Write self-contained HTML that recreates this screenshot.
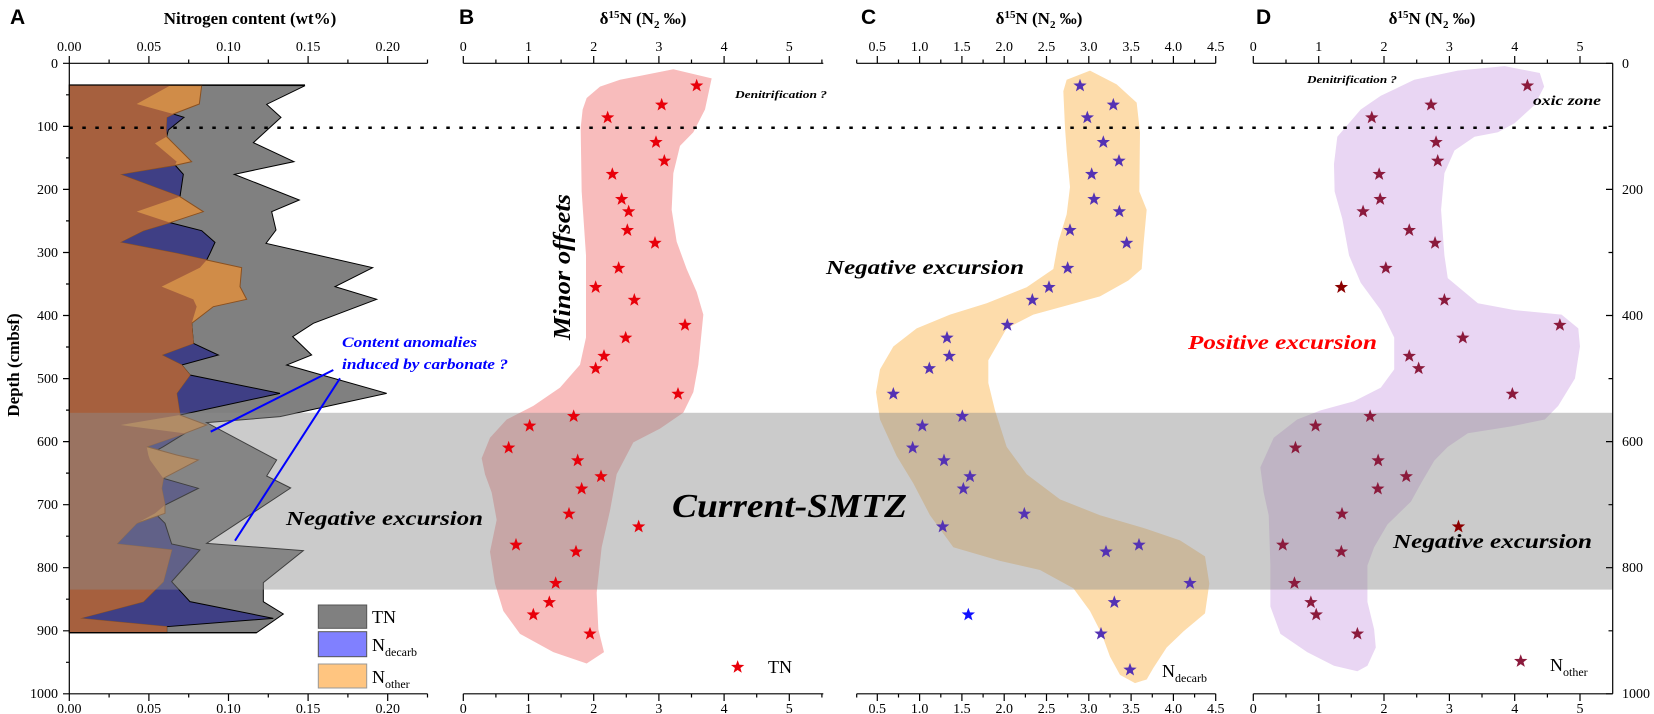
<!DOCTYPE html>
<html><head><meta charset="utf-8"><style>
html,body{margin:0;padding:0;background:#fff;}
svg{display:block;font-family:"Liberation Serif",serif;}
</style></head><body>
<svg width="1654" height="714" viewBox="0 0 1654 714" xmlns="http://www.w3.org/2000/svg">
<defs>
<path id="st" d="M0,-15.35 L5.1,-5.15 L19.98,-4.74 L8.28,1.97 L12.33,12.41 L0,6.36 L-12.33,12.41 L-8.28,1.97 L-19.98,-4.74 L-5.1,-5.15Z"/>
<clipPath id="cp"><rect x="69.3" y="63.3" width="1543.4" height="630.5"/></clipPath>
</defs>

<!-- Panel A areas -->
<g transform="translate(0,40) scale(0.33333)">
<polygon fill="#808080" stroke="#000" stroke-width="3" points="208,135 915,137 800,193 843,232 760,308 882,365 703,403 898,480 815,515 828,570 798,610 1118,683 1005,740 1130,778 940,850 878,890 935,945 860,975 1160,1060 840,1130 620,1148 830,1260 800,1308 872,1344 620,1510 910,1532 790,1628 790,1685 850,1722 770,1778 208,1778"/>
<polygon fill="#3f3f85" stroke="#000" stroke-width="3" points="208,135 510,137 410,192 520,222 552,232 505,270 500,290 465,310 530,365 525,375 550,403 540,470 410,515 510,548 605,572 645,607 630,640 620,660 600,683 485,740 580,778 590,800 575,850 580,910 655,945 545,975 570,1005 840,1060 540,1125 362,1155 555,1180 490,1220 445,1245 450,1260 490,1315 595,1345 495,1395 465,1420 495,1450 515,1512 600,1530 515,1625 570,1685 820,1735 500,1760 500,1778 208,1778"/>
<polygon fill="#d08c48" stroke="#8a5020" stroke-width="3" points="208,135 605,137 598,192 520,222 500,232 498,270 500,290 520,310 575,365 530,375 360,403 540,470 610,515 510,548 430,572 360,607 530,640 620,660 725,683 720,740 740,778 640,800 575,850 580,910 485,945 545,975 570,1005 530,1060 540,1125 620,1155 555,1180 440,1220 530,1245 595,1260 490,1315 485,1345 495,1395 495,1420 410,1450 350,1512 515,1530 490,1625 430,1685 240,1735 500,1760 500,1778 208,1778"/>
<polygon fill="#a6603e" points="208,135 510,137 410,192 520,222 500,232 498,270 500,290 465,310 530,365 525,375 360,403 540,470 410,515 510,548 430,572 360,607 530,640 620,660 600,683 485,740 580,778 590,800 575,850 580,910 485,945 545,975 570,1005 530,1060 540,1125 362,1155 555,1180 440,1220 445,1245 450,1260 490,1315 485,1345 495,1395 465,1420 410,1450 350,1512 515,1530 490,1625 430,1685 240,1735 500,1760 500,1778 208,1778"/>
<line x1="208" y1="135" x2="915" y2="135" stroke="#000" stroke-width="4"/>
<line x1="208" y1="1778" x2="770" y2="1778" stroke="#000" stroke-width="4"/>
</g>

<!-- Blobs -->
<g transform="translate(400,0) scale(0.33333,0.456)">
<polygon fill="#f8bcbc" points="560,215 600,190 660,175 820,152 935,172 915,240 880,290 840,320 820,380 815,460 830,530 860,590 890,640 910,690 895,800 880,860 850,905 780,940 700,970 650,1040 630,1120 605,1200 590,1300 595,1380 612,1430 560,1455 460,1430 360,1390 310,1340 285,1280 270,1210 290,1140 275,1080 255,1040 245,1005 270,960 320,920 400,890 480,850 540,800 558,740 558,560 545,420 542,280 548,240"/>
</g>
<g transform="translate(800,0) scale(0.33333,0.456)">
<polygon fill="#fddcab" points="800,175 870,155 950,185 1010,225 1020,290 1018,420 1040,460 1030,540 1025,590 985,615 900,650 800,670 700,690 620,720 565,790 565,840 585,900 620,980 680,1040 780,1095 900,1130 1040,1160 1140,1185 1215,1220 1228,1280 1215,1345 1150,1385 1100,1420 1060,1465 1040,1490 1005,1498 960,1480 930,1440 905,1390 870,1340 820,1290 720,1250 600,1230 460,1200 390,1130 340,1060 290,1000 240,920 228,860 240,810 280,760 350,720 450,690 560,665 680,630 760,590 775,530 800,470 810,410 800,330 795,280 790,200"/>
</g>
<g transform="translate(1180,0) scale(0.3347,0.456)">
<polygon fill="#e9d6f3" points="540,240 600,210 700,175 830,155 970,145 1075,160 1088,190 1060,230 1000,270 950,290 880,300 820,330 790,380 780,460 790,560 800,610 890,665 1000,680 1140,690 1190,720 1195,760 1180,830 1130,890 1090,920 990,935 860,950 800,980 760,1010 720,1060 690,1100 620,1150 580,1200 560,1240 560,1320 580,1380 585,1420 560,1460 530,1472 460,1460 380,1430 300,1390 270,1330 270,1240 265,1130 250,1080 240,1025 280,960 350,920 420,900 520,880 600,850 640,810 640,740 600,680 540,620 505,560 485,480 462,420 460,360 470,300"/>
</g>

<!-- Gray band -->
<rect x="69.3" y="412.8" width="1543.4" height="176.8" fill="#8c8c8c" opacity="0.45"/>

<!-- Dotted line -->
<line x1="69.3" y1="127.8" x2="1612.7" y2="127.8" stroke="#000" stroke-width="2.5" stroke-dasharray="3.5,9.5"/>

<!-- Stars B -->
<g transform="translate(400,0) scale(0.33333,0.456)" fill="#e8000a">
<use href="#st" x="890" y="188"/><use href="#st" x="785" y="230"/><use href="#st" x="623" y="258"/><use href="#st" x="768" y="312"/><use href="#st" x="793" y="353"/><use href="#st" x="637" y="382"/><use href="#st" x="665" y="437"/><use href="#st" x="686" y="464"/><use href="#st" x="682" y="505"/><use href="#st" x="765" y="533"/><use href="#st" x="656" y="588"/><use href="#st" x="587" y="630"/><use href="#st" x="703" y="658"/><use href="#st" x="855" y="713"/><use href="#st" x="677" y="741"/><use href="#st" x="612" y="781"/><use href="#st" x="587" y="808"/><use href="#st" x="834" y="864"/><use href="#st" x="521" y="913"/><use href="#st" x="389" y="934"/><use href="#st" x="326" y="982"/><use href="#st" x="533" y="1010"/><use href="#st" x="603" y="1045"/><use href="#st" x="545" y="1072"/><use href="#st" x="507" y="1127"/><use href="#st" x="716" y="1155"/><use href="#st" x="348" y="1195"/><use href="#st" x="528" y="1210"/><use href="#st" x="467" y="1279"/><use href="#st" x="448" y="1321"/><use href="#st" x="400" y="1348"/><use href="#st" x="570" y="1390"/><use href="#st" x="1013" y="1463"/>
</g>
<!-- Stars C -->
<g transform="translate(800,0) scale(0.33333,0.456)" fill="#5432b4">
<use href="#st" x="840" y="188"/><use href="#st" x="940" y="230"/><use href="#st" x="862" y="258"/><use href="#st" x="910" y="312"/><use href="#st" x="957" y="353"/><use href="#st" x="875" y="382"/><use href="#st" x="882" y="437"/><use href="#st" x="958" y="464"/><use href="#st" x="810" y="505"/><use href="#st" x="980" y="533"/><use href="#st" x="803" y="588"/><use href="#st" x="747" y="630"/><use href="#st" x="697" y="658"/><use href="#st" x="622" y="713"/><use href="#st" x="441" y="741"/><use href="#st" x="448" y="781"/><use href="#st" x="388" y="808"/><use href="#st" x="280" y="864"/><use href="#st" x="487" y="913"/><use href="#st" x="367" y="934"/><use href="#st" x="338" y="982"/><use href="#st" x="432" y="1010"/><use href="#st" x="510" y="1045"/><use href="#st" x="490" y="1072"/><use href="#st" x="673" y="1127"/><use href="#st" x="428" y="1155"/><use href="#st" x="918" y="1210"/><use href="#st" x="1017" y="1195"/><use href="#st" x="1170" y="1279"/><use href="#st" x="943" y="1321"/><use href="#st" x="903" y="1390"/><use href="#st" x="990" y="1469"/>
<use href="#st" x="505" y="1348" fill="#1010ff"/>
</g>
<!-- Stars D -->
<g transform="translate(1180,0) scale(0.3347,0.456)" fill="#8b1a3c">
<use href="#st" x="1038" y="188"/><use href="#st" x="750" y="230"/><use href="#st" x="573" y="258"/><use href="#st" x="765" y="312"/><use href="#st" x="770" y="353"/><use href="#st" x="595" y="382"/><use href="#st" x="598" y="437"/><use href="#st" x="547" y="464"/><use href="#st" x="685" y="505"/><use href="#st" x="762" y="533"/><use href="#st" x="615" y="588"/><use href="#st" x="482" y="630" fill="#8b0000"/><use href="#st" x="790" y="658"/><use href="#st" x="1135" y="713"/><use href="#st" x="845" y="741"/><use href="#st" x="685" y="781"/><use href="#st" x="713" y="808"/><use href="#st" x="993" y="864"/><use href="#st" x="568" y="913"/><use href="#st" x="405" y="934"/><use href="#st" x="345" y="982"/><use href="#st" x="592" y="1010"/><use href="#st" x="676" y="1045"/><use href="#st" x="591" y="1072"/><use href="#st" x="484" y="1127"/><use href="#st" x="832" y="1155" fill="#8b0000"/><use href="#st" x="307" y="1195"/><use href="#st" x="482" y="1210"/><use href="#st" x="342" y="1279"/><use href="#st" x="391" y="1321"/><use href="#st" x="407" y="1348"/><use href="#st" x="530" y="1390"/><use href="#st" x="1018" y="1450"/>
</g>

<!-- Blue lines -->
<line x1="333.3" y1="370" x2="210.7" y2="431.7" stroke="#0000ff" stroke-width="2"/>
<line x1="340" y1="378.3" x2="235" y2="540.7" stroke="#0000ff" stroke-width="2"/>

<!-- Axes lines -->
<g stroke="#000" stroke-width="1.2" fill="none">
<line x1="69.3" y1="63.3" x2="427.5" y2="63.3"/>
<line x1="69.3" y1="693.8" x2="427.5" y2="693.8"/>
<line x1="69.3" y1="63.3" x2="69.3" y2="693.8"/>
<line x1="463.3" y1="63.3" x2="823.3" y2="63.3"/>
<line x1="463.3" y1="693.8" x2="823.3" y2="693.8"/>
<line x1="856.7" y1="63.3" x2="1215.7" y2="63.3"/>
<line x1="856.7" y1="693.8" x2="1215.7" y2="693.8"/>
<line x1="1253.3" y1="63.3" x2="1612.7" y2="63.3"/>
<line x1="1253.3" y1="693.8" x2="1612.7" y2="693.8"/>
<line x1="1612.7" y1="63.3" x2="1612.7" y2="693.8"/>
<!-- A ticks -->
<path d="M69.3 63.3V56M148.9 63.3V56M228.5 63.3V56M308.1 63.3V56M387.7 63.3V56M109.1 63.3V59.5M188.7 63.3V59.5M268.3 63.3V59.5M347.9 63.3V59.5M427.5 63.3V59.5
M69.3 693.8V701M148.9 693.8V701M228.5 693.8V701M308.1 693.8V701M387.7 693.8V701M109.1 693.8V697.5M188.7 693.8V697.5M268.3 693.8V697.5M347.9 693.8V697.5M427.5 693.8V697.5"/>
<path d="M63 63.3H69.3M63 126.4H69.3M63 189.4H69.3M63 252.5H69.3M63 315.5H69.3M63 378.6H69.3M63 441.6H69.3M63 504.7H69.3M63 567.7H69.3M63 630.8H69.3M63 693.8H69.3
M66 94.8H69.3M66 157.9H69.3M66 220.9H69.3M66 284H69.3M66 347H69.3M66 410.1H69.3M66 473.1H69.3M66 536.2H69.3M66 599.2H69.3M66 662.3H69.3"/>
<!-- B ticks -->
<path d="M463.3 63.3V56M528.5 63.3V56M593.7 63.3V56M658.9 63.3V56M724.1 63.3V56M789.3 63.3V56M495.9 63.3V59.5M561.1 63.3V59.5M626.3 63.3V59.5M691.5 63.3V59.5M756.7 63.3V59.5M821.9 63.3V59.5
M463.3 693.8V701M528.5 693.8V701M593.7 693.8V701M658.9 693.8V701M724.1 693.8V701M789.3 693.8V701M495.9 693.8V697.5M561.1 693.8V697.5M626.3 693.8V697.5M691.5 693.8V697.5M756.7 693.8V697.5M821.9 693.8V697.5"/>
<!-- C ticks -->
<path d="M877.3 63.3V56M919.6 63.3V56M961.9 63.3V56M1004.2 63.3V56M1046.5 63.3V56M1088.8 63.3V56M1131.1 63.3V56M1173.4 63.3V56M1215.7 63.3V56M856.7 63.3V59.5M898.5 63.3V59.5M940.8 63.3V59.5M983.1 63.3V59.5M1025.4 63.3V59.5M1067.7 63.3V59.5M1110 63.3V59.5M1152.3 63.3V59.5M1194.6 63.3V59.5
M877.3 693.8V701M919.6 693.8V701M961.9 693.8V701M1004.2 693.8V701M1046.5 693.8V701M1088.8 693.8V701M1131.1 693.8V701M1173.4 693.8V701M1215.7 693.8V701M856.7 693.8V697.5M898.5 693.8V697.5M940.8 693.8V697.5M983.1 693.8V697.5M1025.4 693.8V697.5M1067.7 693.8V697.5M1110 693.8V697.5M1152.3 693.8V697.5M1194.6 693.8V697.5"/>
<!-- D ticks -->
<path d="M1253.3 63.3V56M1318.7 63.3V56M1384 63.3V56M1449.4 63.3V56M1514.7 63.3V56M1580 63.3V56M1286 63.3V59.5M1351.3 63.3V59.5M1416.7 63.3V59.5M1482 63.3V59.5M1547.4 63.3V59.5
M1253.3 693.8V701M1318.7 693.8V701M1384 693.8V701M1449.4 693.8V701M1514.7 693.8V701M1580 693.8V701M1286 693.8V697.5M1351.3 693.8V697.5M1416.7 693.8V697.5M1482 693.8V697.5M1547.4 693.8V697.5"/>
<path d="M1606 63.3H1612.7M1606 189.4H1612.7M1606 315.5H1612.7M1606 441.6H1612.7M1606 567.7H1612.7M1606 693.8H1612.7M1608.5 126.4H1612.7M1608.5 252.5H1612.7M1608.5 378.6H1612.7M1608.5 504.7H1612.7M1608.5 630.8H1612.7"/>
</g>

<!-- Tick labels -->
<g font-size="14" text-anchor="middle" fill="#000">
<text x="69.3" y="51">0.00</text><text x="148.9" y="51">0.05</text><text x="228.5" y="51">0.10</text><text x="308.1" y="51">0.15</text><text x="387.7" y="51">0.20</text>
<text x="69.3" y="713">0.00</text><text x="148.9" y="713">0.05</text><text x="228.5" y="713">0.10</text><text x="308.1" y="713">0.15</text><text x="387.7" y="713">0.20</text>
<text x="463.3" y="51">0</text><text x="528.5" y="51">1</text><text x="593.7" y="51">2</text><text x="658.9" y="51">3</text><text x="724.1" y="51">4</text><text x="789.3" y="51">5</text>
<text x="463.3" y="713">0</text><text x="528.5" y="713">1</text><text x="593.7" y="713">2</text><text x="658.9" y="713">3</text><text x="724.1" y="713">4</text><text x="789.3" y="713">5</text>
<text x="877.3" y="51">0.5</text><text x="919.6" y="51">1.0</text><text x="961.9" y="51">1.5</text><text x="1004.2" y="51">2.0</text><text x="1046.5" y="51">2.5</text><text x="1088.8" y="51">3.0</text><text x="1131.1" y="51">3.5</text><text x="1173.4" y="51">4.0</text><text x="1215.7" y="51">4.5</text>
<text x="877.3" y="713">0.5</text><text x="919.6" y="713">1.0</text><text x="961.9" y="713">1.5</text><text x="1004.2" y="713">2.0</text><text x="1046.5" y="713">2.5</text><text x="1088.8" y="713">3.0</text><text x="1131.1" y="713">3.5</text><text x="1173.4" y="713">4.0</text><text x="1215.7" y="713">4.5</text>
<text x="1253.3" y="51">0</text><text x="1318.7" y="51">1</text><text x="1384" y="51">2</text><text x="1449.4" y="51">3</text><text x="1514.7" y="51">4</text><text x="1580" y="51">5</text>
<text x="1253.3" y="713">0</text><text x="1318.7" y="713">1</text><text x="1384" y="713">2</text><text x="1449.4" y="713">3</text><text x="1514.7" y="713">4</text><text x="1580" y="713">5</text>
</g>
<g font-size="14" text-anchor="end">
<text x="58" y="68">0</text><text x="58" y="131">100</text><text x="58" y="194">200</text><text x="58" y="257">300</text><text x="58" y="320">400</text><text x="58" y="383">500</text><text x="58" y="446">600</text><text x="58" y="509">700</text><text x="58" y="572">800</text><text x="58" y="635">900</text><text x="58" y="698">1000</text>
</g>
<g font-size="14" text-anchor="start">
<text x="1622" y="68">0</text><text x="1622" y="194">200</text><text x="1622" y="320">400</text><text x="1622" y="446">600</text><text x="1622" y="572">800</text><text x="1622" y="698">1000</text>
</g>

<!-- Titles -->
<g font-weight="bold" font-size="17" text-anchor="middle">
<text x="250" y="24">Nitrogen content (wt%)</text>
<text x="643" y="24">δ<tspan dy="-6" font-size="11">15</tspan><tspan dy="6">N (N</tspan><tspan dy="4" font-size="11">2</tspan><tspan dy="-4"> ‰)</tspan></text>
<text x="1039" y="24">δ<tspan dy="-6" font-size="11">15</tspan><tspan dy="6">N (N</tspan><tspan dy="4" font-size="11">2</tspan><tspan dy="-4"> ‰)</tspan></text>
<text x="1432" y="24">δ<tspan dy="-6" font-size="11">15</tspan><tspan dy="6">N (N</tspan><tspan dy="4" font-size="11">2</tspan><tspan dy="-4"> ‰)</tspan></text>
</g>
<g font-family="Liberation Sans, sans-serif" font-weight="bold" font-size="21">
<text x="10" y="24">A</text><text x="459" y="24">B</text><text x="861" y="24">C</text><text x="1256" y="24">D</text>
</g>
<text transform="translate(19,365) rotate(-90)" text-anchor="middle" font-weight="bold" font-size="17">Depth (cmbsf)</text>

<!-- Annotations -->
<g font-weight="bold" font-style="italic">
<text x="342" y="347" font-size="15" fill="#0000ff" textLength="135" lengthAdjust="spacingAndGlyphs">Content anomalies</text>
<text x="342" y="369" font-size="15" fill="#0000ff" textLength="166" lengthAdjust="spacingAndGlyphs">induced by carbonate ?</text>
<text x="286" y="525" font-size="20" textLength="197" lengthAdjust="spacingAndGlyphs">Negative excursion</text>
<text x="672" y="517" font-size="34" textLength="235" lengthAdjust="spacingAndGlyphs">Current-SMTZ</text>
<text transform="translate(570,340) rotate(-90)" font-size="24" textLength="146" lengthAdjust="spacingAndGlyphs">Minor offsets</text>
<text x="735" y="98" font-size="10" textLength="92" lengthAdjust="spacingAndGlyphs">Denitrification ?</text>
<text x="826" y="274" font-size="20" textLength="198" lengthAdjust="spacingAndGlyphs">Negative excursion</text>
<text x="1307" y="83" font-size="10" textLength="90" lengthAdjust="spacingAndGlyphs">Denitrification ?</text>
<text x="1533" y="105" font-size="14" textLength="68" lengthAdjust="spacingAndGlyphs">oxic zone</text>
<text x="1188" y="349" font-size="20" fill="#ff0000" textLength="189" lengthAdjust="spacingAndGlyphs">Positive excursion</text>
<text x="1393" y="548" font-size="20" textLength="199" lengthAdjust="spacingAndGlyphs">Negative excursion</text>
</g>

<!-- Legends -->
<rect x="318.3" y="605" width="48.4" height="23.3" fill="#808080" stroke="#555"/>
<rect x="318.3" y="631.7" width="48.4" height="25" fill="#8080ff" stroke="#555"/>
<rect x="318.3" y="664" width="48.4" height="24" fill="#ffc580" stroke="#999"/>
<g font-size="18">
<text x="372" y="623">TN</text>
<text x="372" y="651">N<tspan font-size="12" dy="5">decarb</tspan></text>
<text x="372" y="683">N<tspan font-size="12" dy="5">other</tspan></text>
<text x="768" y="673">TN</text>
<text x="1162" y="677">N<tspan font-size="12" dy="5">decarb</tspan></text>
<text x="1550" y="671">N<tspan font-size="12" dy="5">other</tspan></text>
</g>
</svg>
</body></html>
